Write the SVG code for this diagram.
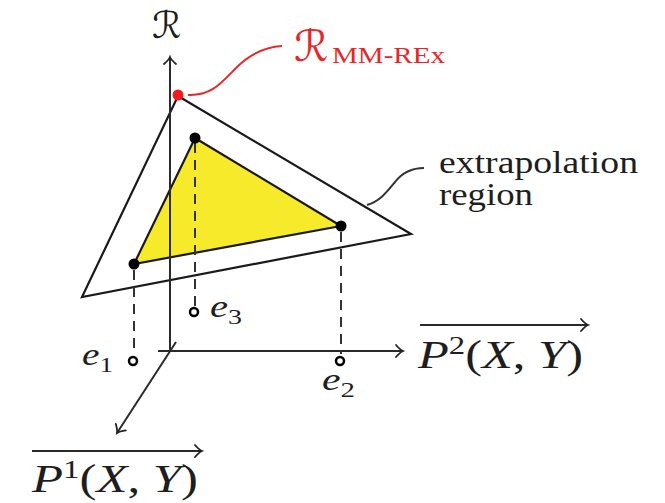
<svg xmlns="http://www.w3.org/2000/svg" width="665" height="503" viewBox="0 0 665 503">
<style>
.ax{stroke:#2a2a2a;stroke-width:2;fill:none}
.dash{stroke:#333;stroke-width:2;stroke-dasharray:10,7;fill:none}
.tri{stroke:#1a1a1a;stroke-width:2.2;stroke-linejoin:miter}
.dot{fill:#000}
.hole{fill:#fff;stroke:#000;stroke-width:2.5}
.m{font-family:"Liberation Serif","DejaVu Serif",serif;fill:#1e1e1e}
.it{font-style:italic}
.cal{font-family:"DejaVu Serif","DejaVu Sans",serif;font-style:italic}
.lbl{font-family:"Liberation Serif",serif;fill:#1e1e1e}
</style>
<defs>
<marker id="to" markerUnits="userSpaceOnUse" viewBox="-10 -8 12 16" markerWidth="12" markerHeight="16" refX="0" refY="0" orient="auto" overflow="visible">
<path d="M-7,-6 C-4,-2.5 -1.5,-0.6 0,0 C-1.5,0.6 -4,2.5 -7,6" fill="none" stroke="#222" stroke-width="1.8" stroke-linecap="round"/>
</marker>
</defs>

<g id="extrapolation-region">
<polygon class="tri" points="178,96 411,234 82,297" fill="#fff"/>
</g>
<g id="interpolation-region">
<polygon class="tri" points="195,138 341,226 134,264" fill="#f7ea2a"/>
</g>

<g id="connectors">
<line class="ax" x1="170" y1="352" x2="170" y2="57" marker-end="url(#to)"/>
<line class="ax" x1="158" y1="351" x2="403" y2="351" marker-end="url(#to)"/>
<line class="ax" x1="176" y1="342" x2="117" y2="433" marker-end="url(#to)"/>
<line class="ax" x1="420" y1="325" x2="588" y2="325" marker-end="url(#to)"/>
<line class="ax" x1="32" y1="451" x2="202" y2="451" marker-end="url(#to)"/>
<line class="dash" x1="134" y1="270" x2="134" y2="354"/>
<line class="dash" x1="195" y1="143" x2="195" y2="306"/>
<line class="dash" x1="341" y1="232" x2="341" y2="354"/>
<path d="M188,95 C212,96 222,82 236,68 C250,54 264,47 282,46" fill="none" stroke="#e8262a" stroke-width="2"/>
<path d="M367,205 C380,201 386,193 395,182 C402,173 412,168 424,168" fill="none" stroke="#333" stroke-width="2"/>
</g>

<g id="vertices">
<circle class="dot" cx="195" cy="138" r="5.5"/>
<circle class="dot" cx="341" cy="226" r="5.5"/>
<circle class="dot" cx="134" cy="264" r="5.5"/>
<circle cx="178" cy="95" r="5.5" fill="#ee1c1c"/>
</g>

<g id="e1">
<circle class="hole" cx="133" cy="361" r="4"/>
<text class="m" x="82" y="365" font-size="32" textLength="31" lengthAdjust="spacingAndGlyphs"><tspan class="it">e</tspan><tspan font-size="22" dy="7">1</tspan></text>
</g>
<g id="e2">
<circle class="hole" cx="340" cy="361" r="4"/>
<text class="m" x="322" y="390" font-size="32" textLength="33" lengthAdjust="spacingAndGlyphs"><tspan class="it">e</tspan><tspan font-size="22" dy="7">2</tspan></text>
</g>
<g id="e3">
<circle class="hole" cx="194" cy="312" r="4"/>
<text class="m" x="210" y="317" font-size="32" textLength="32" lengthAdjust="spacingAndGlyphs"><tspan class="it">e</tspan><tspan font-size="22" dy="7">3</tspan></text>
</g>

<g id="axis-R">
<text class="cal" x="152" y="38" font-size="37" fill="#1e1e1e">ℛ</text>
</g>
<g id="R-MM-REx">
<text x="294" y="61" font-size="43" fill="#e8262a" class="cal">ℛ</text>
<text x="332" y="63" font-size="24" fill="#e8262a" font-family="Liberation Serif, serif" textLength="113" lengthAdjust="spacingAndGlyphs">MM-REx</text>
</g>
<g id="extrapolation-label">
<text class="lbl" x="439" y="173" font-size="31" textLength="199" lengthAdjust="spacingAndGlyphs">extrapolation</text>
<text class="lbl" x="439" y="205" font-size="31" textLength="94" lengthAdjust="spacingAndGlyphs">region</text>
</g>
<g id="axis-P2">
<text class="m" x="418" y="368" font-size="40" textLength="165" lengthAdjust="spacingAndGlyphs"><tspan class="it">P</tspan><tspan font-size="26" dy="-14">2</tspan><tspan dy="14">(</tspan><tspan class="it">X</tspan>, <tspan class="it">Y</tspan>)</text>
</g>
<g id="axis-P1">
<text class="m" x="32" y="492" font-size="40" textLength="166" lengthAdjust="spacingAndGlyphs"><tspan class="it">P</tspan><tspan font-size="26" dy="-14">1</tspan><tspan dy="14">(</tspan><tspan class="it">X</tspan>, <tspan class="it">Y</tspan>)</text>
</g>
</svg>
